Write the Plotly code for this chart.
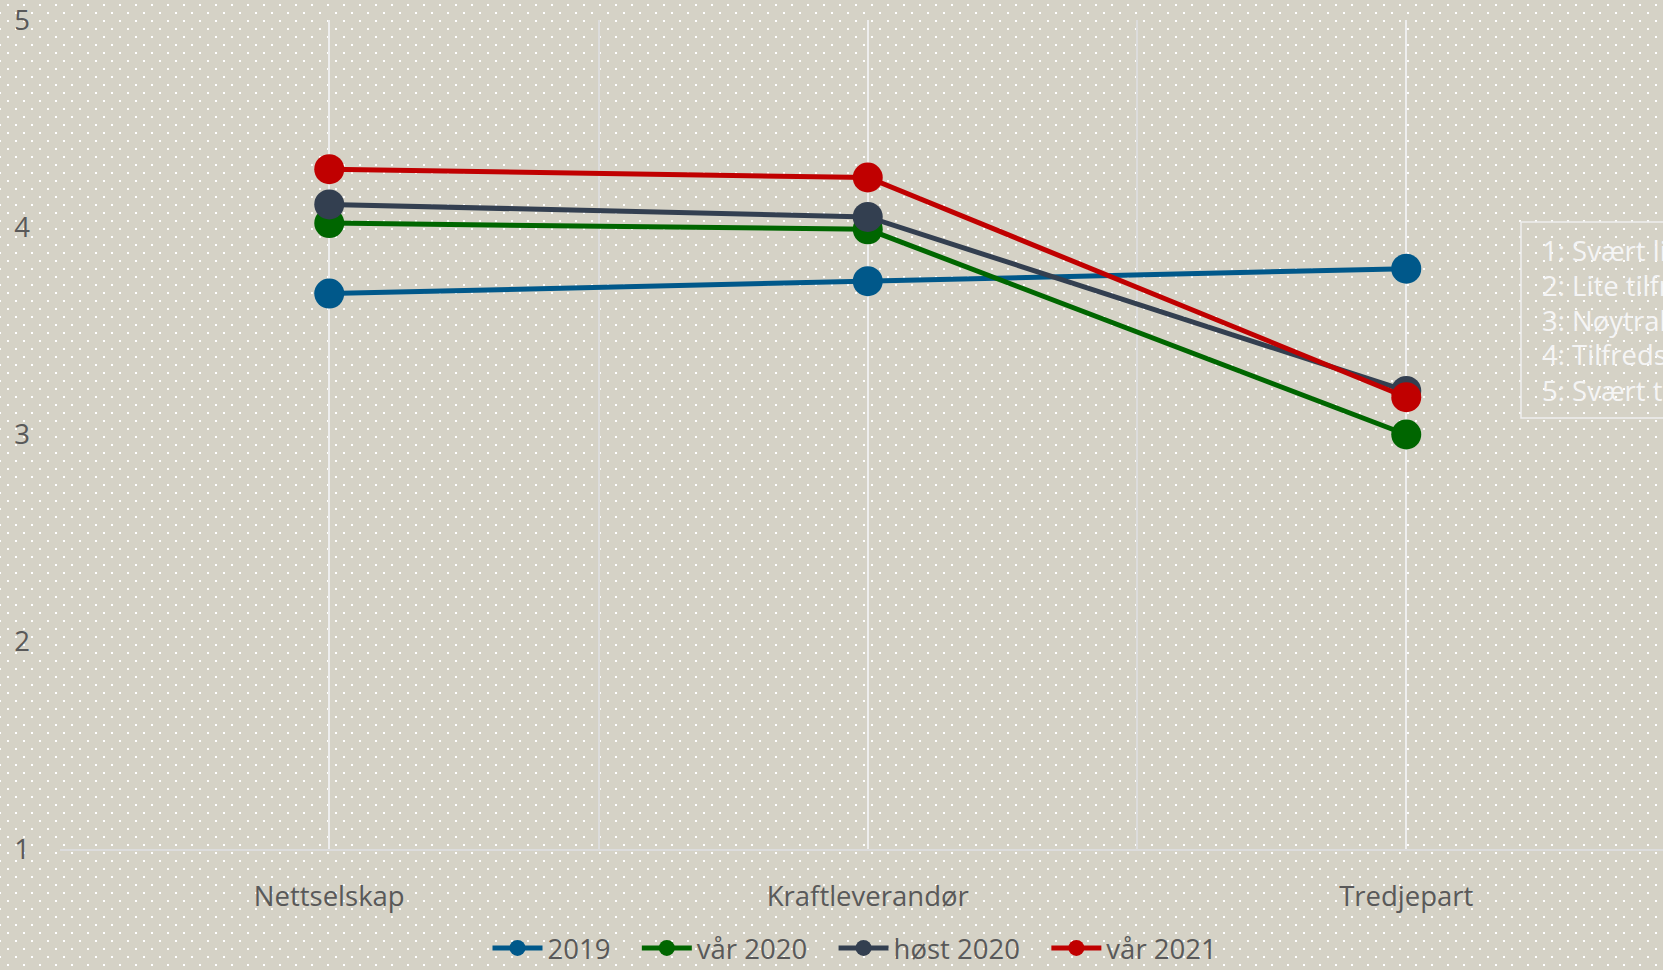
import base64
import plotly.graph_objects as go

categories = ["Nettselskap", "Kraftleverandør", "Tredjepart"]
series_names = ["2019", "vår 2020", "høst 2020", "vår 2021"]
v2019 = [3.68, 3.74, 3.80]
var2020 = [4.02, 3.99, 3.00]
host2020 = [4.11, 4.05, 3.21]
var2021 = [4.28, 4.24, 3.18]
series_values = [v2019, var2020, host2020, var2021]
colors = ["#00588A", "#006600", "#333F50", "#C00000"]
y_ticks = [1, 2, 3, 4, 5]
scale_labels = ["1: Svært lite tilfreds", "2: Lite tilfreds", "3: Nøytral",
                "4: Tilfreds", "5: Svært tilfreds"]

W, H = 1663, 970
ML, MR, MT, MB = 60, 0, 20, 121
PW, PH = W - ML - MR, H - MT - MB
CAT_SPACING = 538.5

FONT = "Open Sans"
FS = 27.5
TXT = "#595959"
BG = "#D5D2C6"

svg = (
    f"<svg xmlns='http://www.w3.org/2000/svg' width='{W}' height='{H}'>"
    "<defs><pattern id='p' x='1' y='0' width='16' height='16' patternUnits='userSpaceOnUse'>"
    "<rect x='6' y='4' width='2' height='2' fill='#FFFFFF'/>"
    "<rect x='14' y='12' width='2' height='2' fill='#FFFFFF'/>"
    "</pattern></defs>"
    f"<rect width='{W}' height='{H}' fill='{BG}'/>"
    f"<rect width='{W}' height='{H}' fill='url(#p)'/>"
    "</svg>"
)
src = "data:image/svg+xml;base64," + base64.b64encode(svg.encode()).decode()

xpos = list(range(len(categories)))

fig = go.Figure()
n = len(series_names)
for i, (name, vals, col) in enumerate(zip(series_names, series_values, colors)):
    label = name + ("\u00a0\u00a0\u00a0" if i < n - 1 else "")
    fig.add_trace(go.Scatter(
        x=xpos, y=vals, name=label, mode="lines+markers",
        line=dict(color=col, width=5),
        marker=dict(color=col, size=30),
    ))

fig.add_layout_image(dict(
    source=src, xref="paper", yref="paper",
    x=-ML / PW, y=1 + MT / PH, sizex=W / PW, sizey=H / PH,
    xanchor="left", yanchor="top", sizing="stretch", layer="below",
))

# scale explanation box
box_left, box_top, box_bottom = 1521, 222, 418
fig.add_shape(type="rect", xref="paper", yref="paper",
              x0=(box_left - ML) / PW, x1=(1860 - ML) / PW,
              y0=(MT + PH - box_bottom) / PH, y1=(MT + PH - box_top) / PH,
              line=dict(color="#EEEEEE", width=1.5), fillcolor="rgba(0,0,0,0)")
line_y = [250, 285, 320, 355, 390]
for txt, yy in zip(scale_labels, line_y):
    fig.add_annotation(text=txt, xref="paper", yref="paper",
                       x=(1540 - ML) / PW, y=(MT + PH - yy) / PH,
                       xanchor="left", yanchor="middle", showarrow=False,
                       font=dict(family=FONT, size=FS, color="#F5F5F5"))

fig.update_layout(
    width=W, height=H,
    margin=dict(l=ML, r=MR, t=MT, b=MB, pad=0, autoexpand=False),
    paper_bgcolor=BG, plot_bgcolor="rgba(0,0,0,0)",
    font=dict(family=FONT, size=FS, color=TXT),
    showlegend=True,
    legend=dict(orientation="h", x=(855 - ML) / PW, xanchor="center",
                y=(MT + PH - 948) / PH, yanchor="middle",
                font=dict(family=FONT, size=FS, color=TXT),
                itemwidth=50,
                bgcolor="rgba(0,0,0,0)", traceorder="normal"),
    xaxis=dict(
        range=[-0.5, -0.5 + PW / CAT_SPACING],
        tickvals=xpos, ticktext=categories, automargin=False,
        showgrid=True, gridcolor="#EEEEEE", gridwidth=2,
        minor=dict(tick0=-0.5, dtick=1, showgrid=True, gridcolor="#DCDCDC", gridwidth=2),
        showline=True, linecolor="#DCDCDC", linewidth=2,
        zeroline=False, ticks="", ticklabelstandoff=22,
        tickfont=dict(family=FONT, size=FS, color=TXT),
    ),
    yaxis=dict(
        range=[1, 5], tickvals=y_ticks, automargin=False,
        showgrid=False, zeroline=False, showline=False,
        ticks="", ticklabelstandoff=29,
        tickfont=dict(family=FONT, size=FS, color=TXT),
    ),
)

fig.write_html(
    "out.html",
    config={"displayModeBar": False},
    post_script="document.body.style.margin='0';"
                "document.documentElement.style.overflow='hidden';"
                "document.body.style.overflow='hidden';",
)
